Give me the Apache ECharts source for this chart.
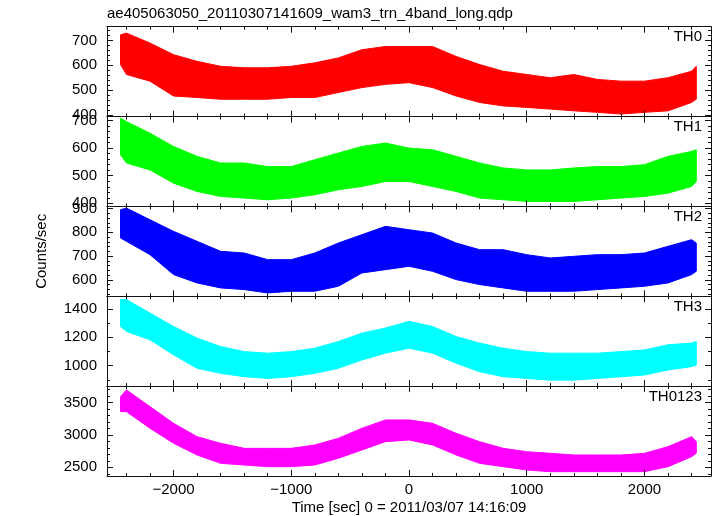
<!DOCTYPE html>
<html>
<head>
<meta charset="utf-8">
<script src="https://cdn.jsdelivr.net/npm/echarts@6/dist/echarts.min.js"></script>
<style>html,body{margin:0;padding:0;background:#fff}#c{width:717px;height:516px}</style>
</head>
<body>
<div id="c"></div>
<script>
// ---- data ----
const TITLE = 'ae405063050_20110307141609_wam3_trn_4band_long.qdp';
const X_NAME = 'Time [sec] 0 = 2011/03/07 14:16:09';
const Y_NAME = 'Counts/sec';
const BANDS = ['TH0', 'TH1', 'TH2', 'TH3', 'TH0123'];
const TIME = [-2450, -2400, -2200, -2000, -1800, -1600, -1400, -1200, -1000, -800, -600, -400, -200, 0, 200, 400, 600, 800, 1000, 1200, 1400, 1600, 1800, 2000, 2200, 2400, 2440];
// lower / upper envelope of the noisy light curves
const TH0_LO = [603, 563, 536, 476, 470, 463, 463, 463, 470, 470, 490, 510, 523, 530, 510, 476, 450, 436, 430, 423, 416, 410, 403, 410, 416, 450, 463];
const TH0_HI = [723, 730, 690, 643, 616, 596, 590, 590, 596, 610, 630, 663, 676, 676, 676, 636, 603, 576, 563, 550, 563, 543, 536, 536, 550, 576, 596];
const TH1_LO = [576, 546, 521, 473, 443, 425, 419, 413, 419, 431, 449, 461, 479, 479, 461, 443, 419, 413, 407, 407, 407, 413, 419, 425, 437, 461, 479];
const TH1_HI = [708, 696, 654, 606, 570, 546, 546, 533, 533, 558, 582, 606, 618, 600, 594, 570, 546, 528, 521, 521, 528, 533, 533, 540, 570, 588, 594];
const TH2_LO = [776, 762, 706, 622, 587, 566, 559, 545, 552, 552, 573, 629, 643, 657, 636, 601, 580, 566, 552, 552, 552, 559, 566, 573, 587, 622, 636];
const TH2_HI = [895, 902, 853, 804, 762, 720, 713, 685, 685, 713, 755, 790, 825, 811, 797, 755, 727, 727, 706, 692, 699, 706, 706, 713, 741, 769, 755];
const TH3_LO = [1276, 1241, 1182, 1076, 981, 946, 922, 910, 922, 946, 981, 1040, 1088, 1123, 1088, 1017, 957, 922, 910, 898, 898, 910, 922, 934, 970, 993, 1005];
const TH3_HI = [1466, 1466, 1371, 1276, 1194, 1135, 1099, 1088, 1099, 1123, 1170, 1229, 1265, 1312, 1276, 1205, 1159, 1123, 1099, 1088, 1088, 1088, 1099, 1111, 1147, 1159, 1170];
const TH0123_LO = [3360, 3360, 3103, 2871, 2690, 2561, 2535, 2509, 2509, 2535, 2639, 2767, 2896, 2922, 2845, 2690, 2561, 2509, 2458, 2432, 2432, 2432, 2432, 2432, 2509, 2664, 2716];
const TH0123_HI = [3592, 3696, 3438, 3180, 2973, 2871, 2793, 2793, 2793, 2845, 2948, 3103, 3232, 3232, 3180, 3025, 2896, 2793, 2741, 2716, 2690, 2690, 2690, 2716, 2819, 2973, 2896];
// axis ranges and tick steps
const X_RANGE = [-2565, 2565];
const X_STEP = 1000;
const Y_MIN = [393, 389, 531, 856, 2366];
const Y_MAX = [756, 714, 909, 1489, 3755];
const Y_STEP = [100, 100, 100, 200, 500];
const Y_MINOR = [5, 5, 5, 2, 5];

// ---- styles ----
const LOS = [TH0_LO, TH1_LO, TH2_LO, TH3_LO, TH0123_LO];
const HIS = [TH0_HI, TH1_HI, TH2_HI, TH3_HI, TH0123_HI];
const COLORS = ['#ff0000', '#00ff00', '#0000ff', '#00ffff', '#ff00ff'];
const FONT = "'Liberation Sans', Helvetica, Arial, sans-serif";
const TOP0 = 26.7, PH = 89.85, LEFT = 107, RIGHT = 6;
const AXC = '#111';

const grids = [], xAxes = [], yAxes = [], series = [], titles = [];
titles.push({ text: TITLE, left: 107, top: 6, padding: 0,
  textStyle: { fontFamily: FONT, fontSize: 15, fontWeight: 'normal', color: '#000' } });

function fmtNum(v) { return v < 0 ? '\u2212' + Math.abs(v) : String(v); }

function bandRenderer(i) {
  return function (params, api) {
    if (params.dataIndex !== 0) return null;
    const pts = [];
    for (let k = 0; k < TIME.length; k++) pts.push(api.coord([TIME[k], HIS[i][k]]));
    for (let k = TIME.length - 1; k >= 0; k--) pts.push(api.coord([TIME[k], LOS[i][k]]));
    return {
      type: 'polygon', shape: { points: pts },
      style: { fill: COLORS[i], stroke: COLORS[i], lineWidth: 1 }
    };
  };
}

for (let i = 0; i < 5; i++) {
  const top = TOP0 + i * PH;
  grids.push({ left: LEFT, right: RIGHT, top: top, height: PH, containLabel: false });
  titles.push({ text: BANDS[i], right: 15, top: top + 3, padding: 0,
    textStyle: { fontFamily: FONT, fontSize: 15, fontWeight: 'normal', color: '#000' } });
  ['bottom', 'top'].forEach(function (pos) {
    xAxes.push({
      type: 'value', gridIndex: i, position: pos, min: X_RANGE[0], max: X_RANGE[1],
      minInterval: X_STEP, maxInterval: X_STEP, z: 10,
      axisLine: { show: true, onZero: false, lineStyle: { color: AXC, width: 1 } },
      axisTick: { show: true, inside: true, length: 6, lineStyle: { color: AXC } },
      minorTick: { show: true, splitNumber: 5, length: 3, lineStyle: { color: AXC } },
      splitLine: { show: false }, minorSplitLine: { show: false },
      axisLabel: { show: (i === 4 && pos === 'bottom'), showMinLabel: false, showMaxLabel: false,
        fontFamily: FONT, fontSize: 15, color: '#000', margin: 6, formatter: fmtNum },
      name: (i === 4 && pos === 'bottom') ? X_NAME : '',
      nameLocation: 'middle', nameGap: 24,
      nameTextStyle: { fontFamily: FONT, fontSize: 15, color: '#000' }
    });
  });
  ['left', 'right'].forEach(function (pos) {
    yAxes.push({
      type: 'value', gridIndex: i, position: pos, min: Y_MIN[i], max: Y_MAX[i],
      minInterval: Y_STEP[i], maxInterval: Y_STEP[i], z: 10,
      axisLine: { show: true, onZero: false, lineStyle: { color: AXC, width: 1 } },
      axisTick: { show: true, inside: true, length: 6, lineStyle: { color: AXC } },
      minorTick: { show: true, splitNumber: Y_MINOR[i], length: 3, lineStyle: { color: AXC } },
      splitLine: { show: false }, minorSplitLine: { show: false },
      axisLabel: { show: pos === 'left', showMinLabel: false, showMaxLabel: false,
        fontFamily: FONT, fontSize: 15, color: '#000', margin: 10, formatter: fmtNum },
      name: (i === 2 && pos === 'left') ? Y_NAME : '',
      nameLocation: 'middle', nameGap: 58,
      nameTextStyle: { fontFamily: FONT, fontSize: 15, color: '#000' }
    });
  });
  series.push({
    type: 'custom', name: BANDS[i], xAxisIndex: 2 * i, yAxisIndex: 2 * i,
    data: TIME.map(function (t, k) { return [t, LOS[i][k], HIS[i][k]]; }),
    encode: { x: 0, y: [1, 2] },
    renderItem: bandRenderer(i), clip: true, silent: true, z: 2
  });
}

const chart = echarts.init(document.getElementById('c'), null, { renderer: 'canvas' });
chart.setOption({
  backgroundColor: '#fff', animation: false,
  title: titles, grid: grids, xAxis: xAxes, yAxis: yAxes, series: series
});
</script>
</body>
</html>
